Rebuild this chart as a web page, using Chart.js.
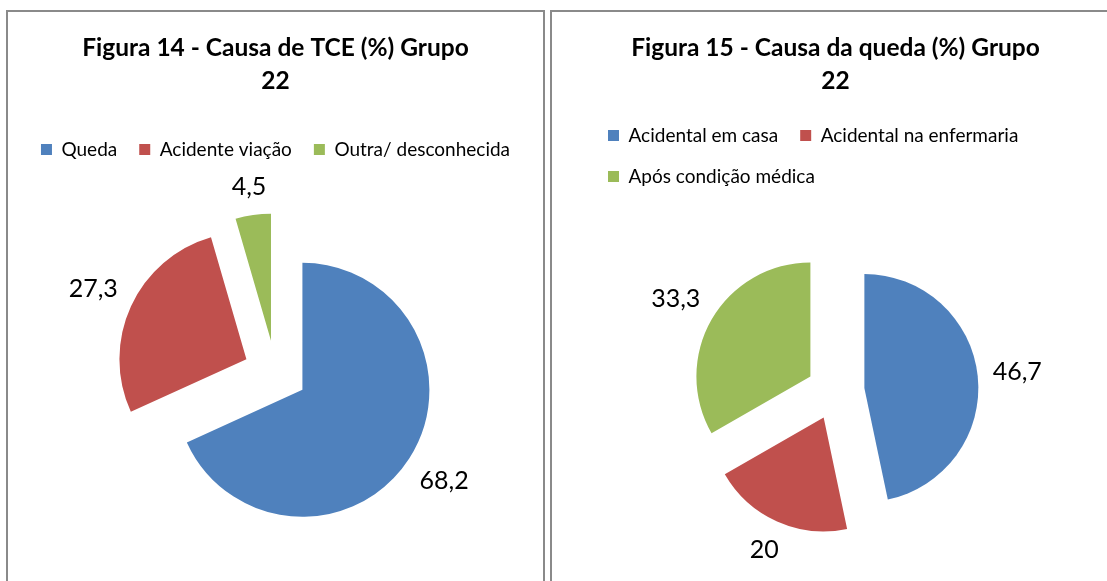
<!DOCTYPE html>
<html>
<head>
<meta charset="utf-8">
<script src="https://cdn.jsdelivr.net/npm/chart.js@4.4.0/dist/chart.umd.min.js"></script>
<style>
    body { margin: 0; width: 1107px; height: 581px; overflow: hidden; background: #fff; position: relative; }
    .panel { position: absolute; top: 10px; height: 640px; border: 2px solid #8a8a8a; box-sizing: border-box; background: #fff; }
    #panel14 { left: 6px; width: 539px; }
    #panel15 { left: 550px; width: 571px; }
    .wrap { position: relative; height: 600px; }
    #panel14 .wrap { width: 535px; }
    #panel15 .wrap { width: 567px; }
</style>
</head>
<body>
<div class="panel" id="panel14"><div class="wrap"><canvas id="tceChart"></canvas></div></div>
<div class="panel" id="panel15"><div class="wrap"><canvas id="quedaChart"></canvas></div></div>
<script>
// Figura 14 data
const tceTitle = ['Figura 14 - Causa de TCE (%) Grupo', '22'];
const tceLabels = ['Queda', 'Acidente viação', 'Outra/ desconhecida'];
const tceValues = [68.2, 27.3, 4.5];

// Figura 15 data
const quedaTitle = ['Figura 15 - Causa da queda (%) Grupo', '22'];
const quedaLabels = ['Acidental em casa', 'Acidental na enfermaria', 'Após condição médica'];
const quedaValues = [46.7, 20, 33.3];

// Office palette
const sliceColors = ['#4F81BD', '#C0504D', '#9BBB59'];

const FONT = 'Lato, "Open Sans", sans-serif';

// pushes each slice out from the centre along its mid angle (Excel "explosion")
const explodePlugin = {
    id: 'explode',
    afterDatasetsUpdate(chart, args, opts) {
        chart.getDatasetMeta(0).data.forEach(arc => {
            const mid = (arc.startAngle + arc.endAngle) / 2;
            arc.x += Math.cos(mid) * opts.distance;
            arc.y += Math.sin(mid) * opts.distance;
        });
    }
};

// value labels outside each slice, decimal comma
const valueLabelPlugin = {
    id: 'valueLabels',
    afterDatasetsDraw(chart, args, opts) {
        const ctx = chart.ctx;
        const values = chart.data.datasets[0].data;
        ctx.save();
        ctx.font = opts.size + 'px ' + FONT;
        ctx.fillStyle = '#000';
        ctx.textAlign = 'center';
        ctx.textBaseline = 'middle';
        chart.getDatasetMeta(0).data.forEach((arc, i) => {
            const text = String(values[i]).replace('.', ',');
            const mid = (arc.startAngle + arc.endAngle) / 2;
            const dx = Math.cos(mid), dy = Math.sin(mid);
            const halfW = ctx.measureText(text).width / 2;
            const halfH = opts.size / 2;
            const dist = arc.outerRadius + opts.gap + halfW * Math.abs(dx) + halfH * Math.abs(dy);
            ctx.fillText(text, arc.x + dx * dist, arc.y + dy * dist);
        });
        ctx.restore();
    }
};

function makePie(id, title, labels, values, cfg) {
    return new Chart(document.getElementById(id), {
        type: 'pie',
        data: {
            labels: labels,
            datasets: [{
                data: values,
                backgroundColor: sliceColors,
                borderWidth: 0,
                radius: cfg.radius
            }]
        },
        plugins: [explodePlugin, valueLabelPlugin],
        options: {
            responsive: true,
            maintainAspectRatio: false,
            animation: false,
            layout: { padding: cfg.layoutPadding },
            plugins: {
                title: {
                    display: true,
                    text: title,
                    color: '#000',
                    font: { family: FONT, size: 24.5, weight: 'bold', lineHeight: '33px' },
                    padding: { top: 20, bottom: cfg.titleBottom }
                },
                legend: {
                    position: 'top',
                    align: cfg.legendAlign,
                    labels: {
                        boxWidth: 11,
                        boxHeight: 11,
                        padding: 22,
                        color: '#000',
                        font: { family: FONT, size: 19 }
                    }
                },
                tooltip: { enabled: false },
                explode: { distance: cfg.explode },
                valueLabels: { size: 25, gap: 14 }
            }
        }
    });
}

makePie('tceChart', tceTitle, tceLabels, tceValues, {
    radius: 127,
    explode: 32,
    titleBottom: 20,
    legendAlign: 'center',
    layoutPadding: { top: 0, bottom: 36, left: 0, right: 0 }
});

makePie('quedaChart', quedaTitle, quedaLabels, quedaValues, {
    radius: 114,
    explode: 29,
    titleBottom: 6,
    legendAlign: 'start',
    layoutPadding: { top: 0, bottom: 26, left: 34, right: 34 }
});
</script>
</body>
</html>
